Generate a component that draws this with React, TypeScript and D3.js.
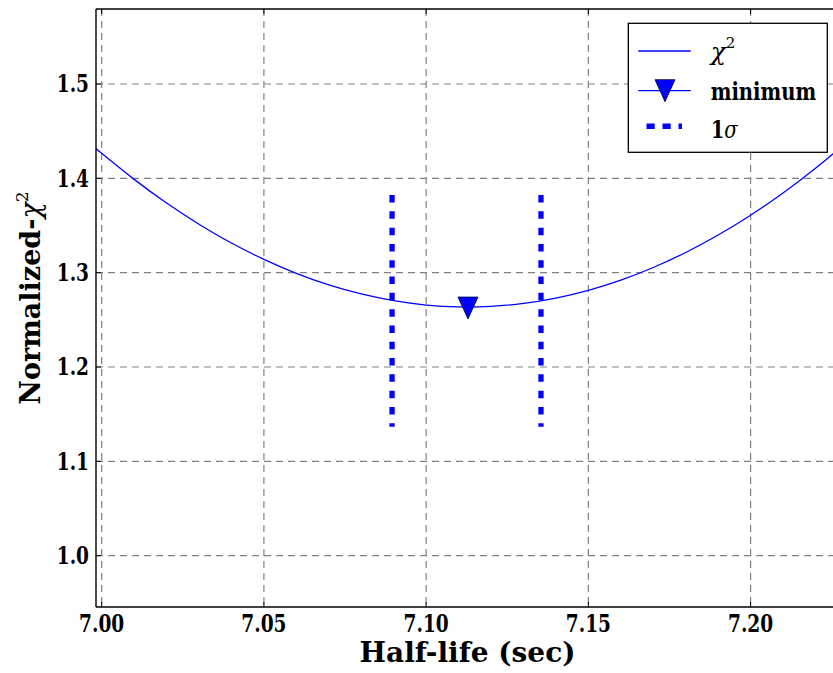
import React from "react";
import * as d3 from "d3";

// ---- data ----
const halfLife = [6.998, 7.0, 7.01, 7.02, 7.03, 7.04, 7.05, 7.06, 7.07, 7.08, 7.09, 7.1, 7.11, 7.12, 7.13, 7.14, 7.15, 7.16, 7.17, 7.18, 7.19, 7.2, 7.21, 7.22, 7.23];
const chi2 = [1.4323, 1.4265, 1.3989, 1.3738, 1.3514, 1.3314, 1.3141, 1.2993, 1.287, 1.2774, 1.2703, 1.2657, 1.2637, 1.2643, 1.2674, 1.2731, 1.2813, 1.2921, 1.3055, 1.3214, 1.3399, 1.3609, 1.3845, 1.4107, 1.4394];
const minimumPoint = [7.1129, 1.2625];
const sigmaX = [7.0895, 7.1354];
const sigmaY = [1.1366, 1.3823];
const xTicks = [7.0, 7.05, 7.1, 7.15, 7.2];
const yTicks = [1.0, 1.1, 1.2, 1.3, 1.4, 1.5];
const xDomain = [6.99825, 7.2254];
const yDomain = [0.9456, 1.5795];
const legendLabels = ["minimum"];

const W = 833;
const H = 673;
const L = 96, R = 833, T = 9, B = 607;

const labelFont = "'DejaVu Serif', serif";
const SX = 0.79;

export default function App() {
  const x = d3.scaleLinear().domain(xDomain).range([L, R]);
  const y = d3.scaleLinear().domain(yDomain).range([B, T]);
  const pts = halfLife.map((h, i) => [h, chi2[i]] as [number, number]);
  const line = d3
    .line<[number, number]>()
    .x((d) => x(d[0]))
    .y((d) => y(d[1]))
    .curve(d3.curveCatmullRom);
  const mx = x(minimumPoint[0]);
  const my = y(minimumPoint[1]);
  const tri = (cx: number, cy: number) =>
    `M${cx - 10},${cy - 11}L${cx + 10},${cy - 11}L${cx},${cy + 11}Z`;

  const gridColor = "#808080";
  const blue = "#0000ff";

  return (
    <svg
      width={W}
      height={H}
      style={{ position: "absolute", left: 0, top: 0, background: "#fff" }}
    >
      <defs>
        <clipPath id="plotClip">
          <rect x={L} y={T} width={R - L} height={B - T} />
        </clipPath>
      </defs>
      <rect x={0} y={0} width={W} height={H} fill="#fff" />
      {/* grid */}
      <g stroke={gridColor} strokeWidth={1.2} strokeDasharray="7 5">
        {xTicks.map((t) => (
          <line key={"gx" + t} x1={x(t)} x2={x(t)} y1={T} y2={B} />
        ))}
        {yTicks.map((t) => (
          <line key={"gy" + t} x1={L} x2={R} y1={y(t)} y2={y(t)} />
        ))}
      </g>
      {/* ticks inward */}
      <g stroke="#000" strokeWidth={1}>
        {xTicks.map((t) => (
          <g key={"tx" + t}>
            <line x1={x(t)} x2={x(t)} y1={B} y2={B - 5} />
            <line x1={x(t)} x2={x(t)} y1={T} y2={T + 5} />
          </g>
        ))}
        {yTicks.map((t) => (
          <line key={"ty" + t} x1={L} x2={L + 5} y1={y(t)} y2={y(t)} />
        ))}
      </g>
      {/* data */}
      <g clipPath="url(#plotClip)">
        <path d={line(pts) || ""} fill="none" stroke={blue} strokeWidth={1.3} />
        {sigmaX.map((sx) => (
          <line
            key={"s" + sx}
            x1={x(sx)}
            x2={x(sx)}
            y1={y(sigmaY[1])}
            y2={y(sigmaY[0])}
            stroke={blue}
            strokeWidth={5.3}
            strokeDasharray="7.5 8.8"
          />
        ))}
        <path d={tri(mx, my)} fill={blue} stroke="#000040" strokeWidth={0.8} />
      </g>
      {/* spines */}
      <g stroke="#000" strokeWidth={1.4} fill="none">
        <line x1={L} x2={L} y1={T} y2={B} />
        <line x1={L} x2={R} y1={T} y2={T} />
        <line x1={L} x2={R} y1={B} y2={B} />
      </g>
      {/* tick labels */}
      <g fontFamily={labelFont} fontWeight="bold" fontSize={23.5} fill="#000">
        {xTicks.map((t) => (
          <text
            key={"lx" + t}
            transform={`translate(${x(t)},631.5) scale(${SX},1)`}
            textAnchor="middle"
          >
            {d3.format(".2f")(t)}
          </text>
        ))}
        {yTicks.map((t) => (
          <text
            key={"ly" + t}
            transform={`translate(89,${y(t) + 8.3}) scale(${SX},1)`}
            textAnchor="end"
          >
            {d3.format(".1f")(t)}
          </text>
        ))}
      </g>
      {/* axis labels */}
      <text
        x={467.5}
        y={662}
        textAnchor="middle"
        fontFamily={labelFont}
        fontWeight="bold"
        fontSize={28}
        fill="#000"
      >
        Half-life (sec)
      </text>
      <text
        transform="translate(40,298) rotate(-90)"
        textAnchor="middle"
        fontFamily={labelFont}
        fontSize={27}
        fill="#000"
      >
        <tspan fontWeight="bold">Normalized-</tspan>
        <tspan fontStyle="italic" fontSize={27}>χ</tspan>
        <tspan fontSize={17} dy={-12}>2</tspan>
      </text>
      {/* legend */}
      <g>
        <rect x={628.3} y={23.3} width={199} height={129} fill="#fff" stroke="#000" strokeWidth={1.3} />
        <line x1={638.3} x2={690.7} y1={51} y2={51} stroke={blue} strokeWidth={1.3} />
        <line x1={638.3} x2={690.7} y1={90.7} y2={90.7} stroke={blue} strokeWidth={1.3} />
        <path d={tri(665, 90.7)} fill={blue} stroke="#000040" strokeWidth={0.8} />
        <line x1={646.5} x2={682} y1={126.3} y2={126.3} stroke={blue} strokeWidth={5.5} strokeDasharray="8.2 7.8" />
        <text x={710.7} y={60} fontFamily={labelFont} fontSize={25} fill="#000">
          <tspan fontStyle="italic">χ</tspan>
          <tspan fontSize={15} dy={-12}>2</tspan>
        </text>
        <text
          transform={`translate(710.7,100) scale(0.8,1)`}
          fontFamily={labelFont}
          fontWeight="bold"
          fontSize={24.5}
          fill="#000"
        >
          {legendLabels[0]}
        </text>
        <text
          transform={`translate(710.7,138) scale(0.8,1)`}
          fontFamily={labelFont}
          fontSize={24.5}
          fill="#000"
        >
          <tspan fontWeight="bold">1</tspan>
          <tspan fontStyle="italic">σ</tspan>
        </text>
      </g>
    </svg>
  );
}
